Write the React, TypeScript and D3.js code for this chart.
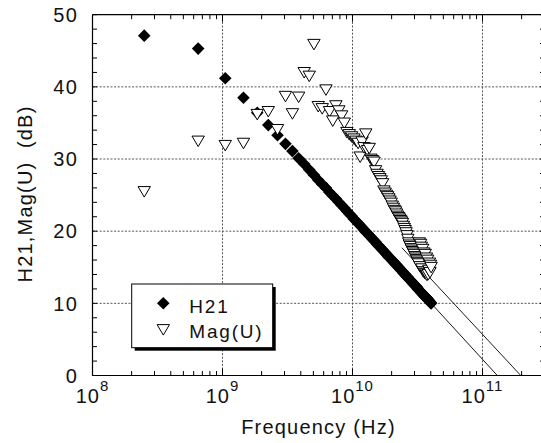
import React from 'react';
import * as d3 from 'd3';

// Frequency sweep (GHz)
const freqGHz = [0.25,0.65,1.05,1.45,1.85,2.25,2.65,3.05,3.45,3.85,4.25,4.65,5.05,5.45,5.85,6.25,6.65,7.05,7.45,7.85,8.25,8.65,9.05,9.45,9.85,10.25,10.65,11.05,11.45,11.85,12.25,12.65,13.05,13.45,13.85,14.25,14.65,15.05,15.45,15.85,16.25,16.65,17.05,17.45,17.85,18.25,18.65,19.05,19.45,19.85,20.25,20.65,21.05,21.45,21.85,22.25,22.65,23.05,23.45,23.85,24.25,24.65,25.05,25.45,25.85,26.25,26.65,27.05,27.45,27.85,28.25,28.65,29.05,29.45,29.85,30.25,30.65,31.05,31.45,31.85,32.25,32.65,33.05,33.45,33.85,34.25,34.65,35.05,35.45,35.85,36.25,36.65,37.05,37.45,37.85,38.25,38.65,39.05,39.45,39.85,40.25];

// H21 (dB)
const h21 = [
47.1,45.3,41.2,38.5,36.4,34.7,33.3,32.1,31.1,30.1,
29.3,28.5,27.8,27.1,26.5,26.0,25.4,24.9,24.5,24.0,
23.6,23.2,22.8,22.4,22.1,21.7,21.4,21.1,20.8,20.5,
20.2,19.9,19.7,19.4,19.2,18.9,18.7,18.5,18.2,18.0,
17.8,17.6,17.4,17.2,17.0,16.8,16.6,16.4,16.3,16.1,
15.9,15.8,15.6,15.4,15.3,15.1,15.0,14.8,14.7,14.5,
14.4,14.2,14.1,14.0,13.8,13.7,13.6,13.4,13.3,13.2,
13.1,13.0,12.8,12.7,12.6,12.5,12.4,12.3,12.2,12.0,
11.9,11.8,11.7,11.6,11.5,11.4,11.3,11.2,11.1,11.0,
10.9,10.8,10.8,10.7,10.6,10.5,10.4,10.3,10.2,10.1,
10.0];

// Mag(U) (dB)
const magU = [
25.5,32.5,31.9,32.2,36.2,36.6,34.1,38.7,36.3,38.6,
42.0,41.5,45.9,37.3,37.0,39.6,36.6,35.3,37.4,36.7,
36.0,35.0,33.7,33.4,33.1,32.8,32.5,32.2,30.3,32.4,
31.6,33.5,31.2,31.5,30.0,29.8,29.6,28.4,27.9,27.6,
27.3,27.0,26.6,25.6,25.3,25.0,24.8,24.5,24.2,23.9,
23.5,23.2,22.9,22.7,22.4,22.1,21.9,21.7,21.5,21.3,
21.1,20.7,20.4,20.1,19.8,19.4,18.9,18.4,18.1,17.9,
17.6,17.4,17.2,17.0,16.8,16.5,16.3,16.1,15.9,15.7,
15.5,18.4,15.1,18.2,17.8,14.8,17.5,14.4,17.0,14.2,
16.8,14.1,16.3,13.9,16.0,14.0,14.6,15.6,14.3,15.3,
15.0];

// -20 dB/decade extrapolation lines
const fitH21F = [10, 130];
const fitH21V = [21.9, 0];
const fitMagF = [24, 197];
const fitMagV = [17.7, 0];

const yTicks = [0, 10, 20, 30, 40, 50];
const xDecades = [8, 9, 10, 11];

const W = 541, H = 443;
const L = 92.5, T = 14.7, B = 375.5;
const R = L + 130 * Math.log10(3000);

const FONT = "'Liberation Sans', Arial, Helvetica, sans-serif";

export default function App() {
  const x = d3.scaleLog().domain([1e8, 3e11]).range([L, R]);
  const y = d3.scaleLinear().domain([0, 50]).range([B, T]);
  const line = d3.line<[number, number]>().x(d => x(d[0] * 1e9)).y(d => y(d[1]));

  const minorX: number[] = [];
  xDecades.forEach(d => { for (let m = 2; m <= 9; m++) { const f = m * Math.pow(10, d); if (f < 3e11) minorX.push(f); } });
  const minorY = d3.range(0, 51, 2);

  const diamond = 'M0,-6.3L6.3,0L0,6.3L-6.3,0Z';
  const tri = 'M-6.2,-4.9L6.2,-4.9L0,5.6Z';

  const gridStyle = { stroke: '#555', strokeWidth: 1, strokeDasharray: '2,1.6' };
  const textStyle = { fontFamily: FONT, fill: '#111' } as const;

  return (
    <svg width={W} height={H} style={{ position: 'absolute', left: 0, top: 0, background: '#fff' }}>
      <rect x={0} y={0} width={W} height={H} fill="#fff" />
      {/* grid */}
      {xDecades.slice(1).map(d => (
        <line key={'gx' + d} x1={x(Math.pow(10, d))} x2={x(Math.pow(10, d))} y1={T} y2={B} style={gridStyle} />
      ))}
      {yTicks.slice(1, -1).map(v => (
        <line key={'gy' + v} x1={L} x2={R} y1={y(v)} y2={y(v)} style={gridStyle} />
      ))}
      {/* fit lines */}
      <path d={line(fitH21F.map((f, i) => [f, fitH21V[i]]) as any) || ''} stroke="#000" strokeWidth={0.9} fill="none" />
      <path d={line(fitMagF.map((f, i) => [f, fitMagV[i]]) as any) || ''} stroke="#000" strokeWidth={0.9} fill="none" />
      {/* H21 */}
      {freqGHz.map((f, i) => (
        <path key={'h' + i} d={diamond} transform={`translate(${x(f * 1e9)},${y(h21[i])})`} fill="#000" />
      ))}
      {/* Mag(U) */}
      {freqGHz.map((f, i) => (
        <path key={'m' + i} d={tri} transform={`translate(${x(f * 1e9)},${y(magU[i])})`} fill="#fff" stroke="#000" strokeWidth={1} />
      ))}
      {/* axes frame */}
      <line x1={L} x2={L} y1={T} y2={B} stroke="#000" strokeWidth={1.2} />
      <line x1={L} x2={R} y1={B} y2={B} stroke="#000" strokeWidth={1.2} />
      <line x1={L} x2={R} y1={T} y2={T} stroke="#000" strokeWidth={1.2} />
      <line x1={R} x2={R} y1={T} y2={B} stroke="#000" strokeWidth={1.2} />
      {/* y ticks */}
      {minorY.map(v => (
        <g key={'ty' + v}>
          <line x1={L} x2={L + 4.5} y1={y(v)} y2={y(v)} stroke="#000" strokeWidth={1} />
          <line x1={R} x2={R - 4.5} y1={y(v)} y2={y(v)} stroke="#000" strokeWidth={1} />
        </g>
      ))}
      {/* x ticks */}
      {minorX.map(f => (
        <g key={'tx' + f}>
          <line x1={x(f)} x2={x(f)} y1={B} y2={B - 4.5} stroke="#000" strokeWidth={1} />
          <line x1={x(f)} x2={x(f)} y1={T} y2={T + 4.5} stroke="#000" strokeWidth={1} />
        </g>
      ))}
      {xDecades.map(d => (
        <g key={'txm' + d}>
          <line x1={x(Math.pow(10, d))} x2={x(Math.pow(10, d))} y1={B} y2={B - 7} stroke="#000" strokeWidth={1} />
          <line x1={x(Math.pow(10, d))} x2={x(Math.pow(10, d))} y1={T} y2={T + 7} stroke="#000" strokeWidth={1} />
        </g>
      ))}
      {/* y tick labels */}
      {yTicks.map(v => (
        <text key={'ly' + v} x={78} y={y(v)} dy="0.36em" textAnchor="end" fontSize={20} letterSpacing={1.2} style={textStyle}>{v}</text>
      ))}
      {/* x tick labels */}
      {xDecades.map(d => (
        <text key={'lx' + d} x={x(Math.pow(10, d))} y={403} textAnchor="middle" fontSize={20} letterSpacing={1} style={textStyle}>
          10<tspan fontSize={15} dy={-12}>{d}</tspan>
        </text>
      ))}
      {/* axis titles */}
      <text x={(L + R) / 2} y={434} textAnchor="middle" fontSize={20} letterSpacing={1.2} style={textStyle}>Frequency (Hz)</text>
      <text transform={`translate(31.5,194) rotate(-90)`} textAnchor="middle" fontSize={20} letterSpacing={1.2} style={{ ...textStyle, whiteSpace: 'pre' }} xmlSpace="preserve">{'H21,Mag(U)  (dB)'}</text>
      {/* legend */}
      <rect x={134.7} y={287} width={141} height={63.7} fill="#000" />
      <rect x={131.7} y={284} width={141} height={63.7} fill="#fff" stroke="#000" strokeWidth={1} />
      <path d={diamond} transform="translate(163.3,303.3)" fill="#000" />
      <path d={tri} transform="translate(163.3,329.5)" fill="#fff" stroke="#000" strokeWidth={1} />
      <text x={189.3} y={312.7} fontSize={19} letterSpacing={1.8} style={textStyle}>H21</text>
      <text x={189.3} y={337.7} fontSize={19} letterSpacing={1.8} style={textStyle}>Mag(U)</text>
    </svg>
  );
}
